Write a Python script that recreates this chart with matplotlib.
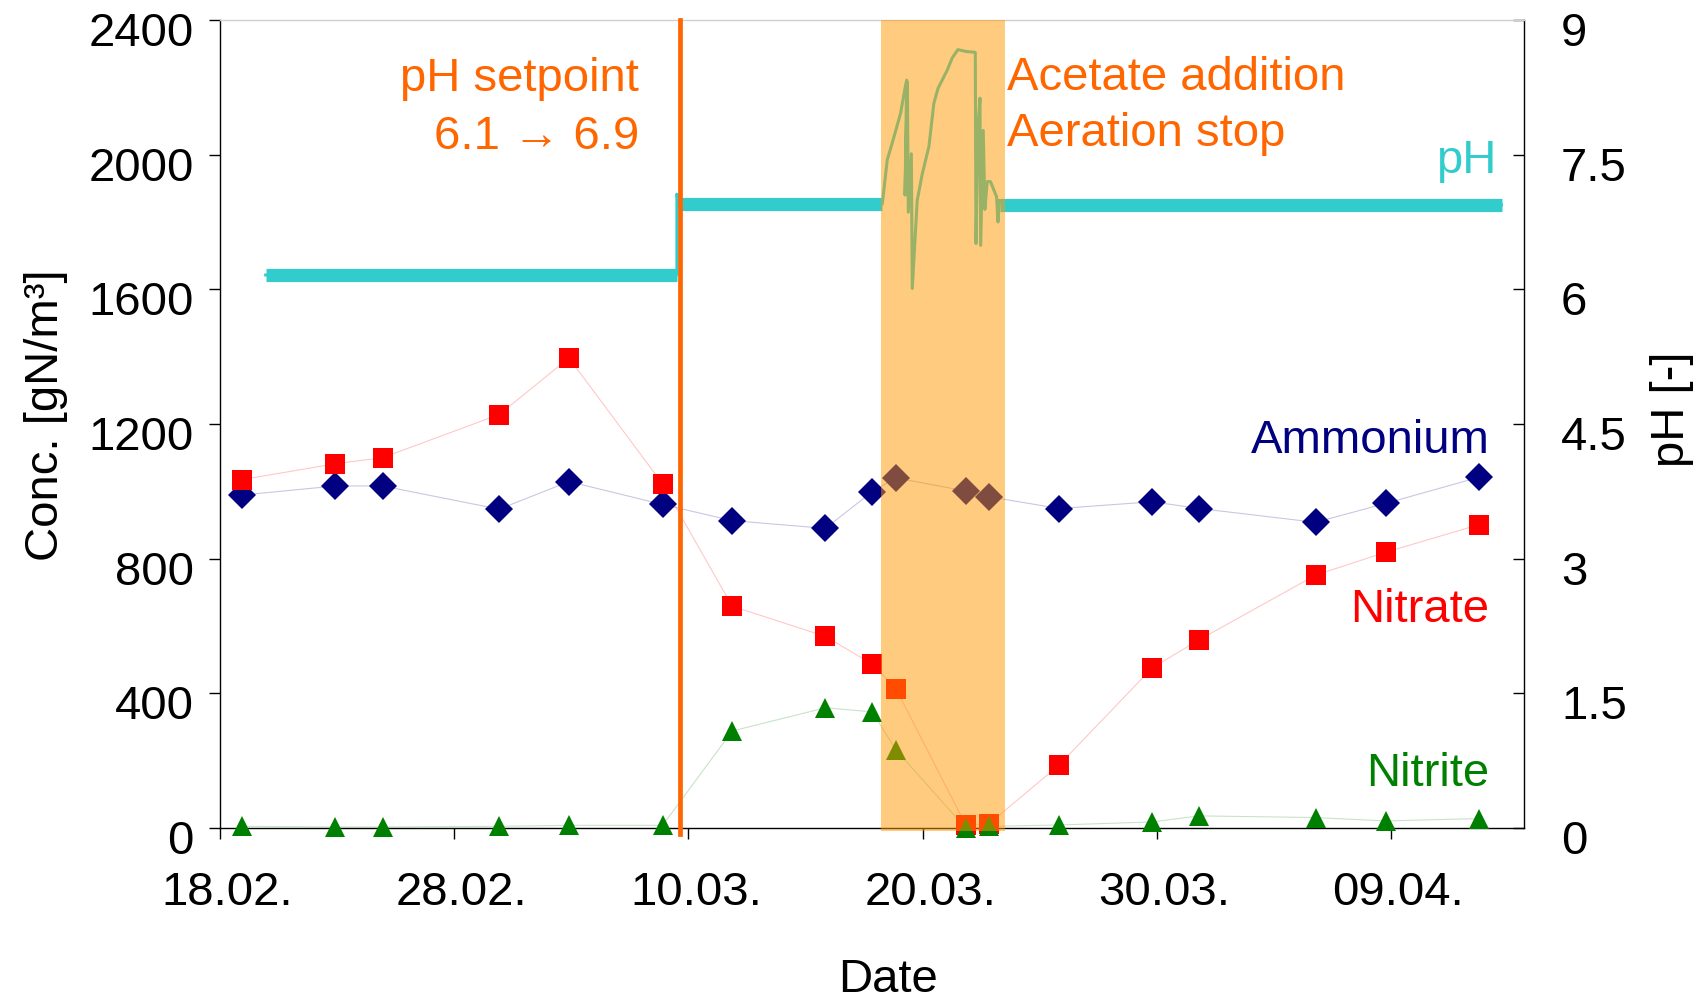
import matplotlib
matplotlib.use("Agg")
import matplotlib.pyplot as plt
from matplotlib.transforms import ScaledTranslation

plt.rcParams['font.family'] = ['Liberation Sans', 'DejaVu Sans']

# ---------------- data (x = days after 18.02.) ----------------
sample_days = [0.95, 4.93, 6.94, 11.92, 14.9, 18.9, 21.87, 25.85, 27.85, 28.86,
               31.84, 32.83, 35.83, 39.81, 41.81, 46.78, 49.77, 53.76]
ammonium = [989, 1016, 1016, 947, 1029, 961, 913, 890, 999, 1040,
            1001, 984, 949, 969, 949, 908, 964, 1042]
nitrate = [1035, 1082, 1100, 1228, 1396, 1022, 659, 569, 487, 414,
           9, 12, 187, 476, 559, 751, 819, 901]
nitrite = [5, 3, 3, 5, 8, 8, 288, 357, 345, 232,
           0, 5, 9, 18, 36, 31, 21, 28]

# online pH signal
ph_days = [1.95, 19.51, 19.51, 19.58, 28.28, 28.49, 28.78, 29.06, 29.25, 29.32,
           29.25, 29.35, 29.39, 29.52, 29.56, 29.77, 29.99, 30.27, 30.48, 30.66,
           31.05, 31.27, 31.51, 31.84, 32.25, 32.28, 32.37, 32.45, 32.48, 32.59,
           32.66, 32.76, 32.90, 33.16, 33.22, 33.28, 33.55, 54.72]
ph_vals = [6.16, 6.16, 7.06, 6.95, 6.95, 7.44, 7.70, 7.96, 8.24, 8.33,
           7.05, 8.31, 6.86, 7.51, 6.01, 6.99, 7.29, 7.59, 8.07, 8.24,
           8.44, 8.58, 8.67, 8.65, 8.64, 6.51, 7.81, 8.13, 6.49, 7.77,
           6.89, 7.20, 7.20, 7.03, 6.75, 6.99, 6.95, 6.94]
# steady (noisy) pH periods: start day, end day, level
ph_steady_start = [1.95, 19.55, 33.30]
ph_steady_end = [19.51, 28.28, 54.72]
ph_steady_level = [6.16, 6.95, 6.94]

setpoint_change_day = 19.65
event_start, event_end = 28.21, 33.52

xtick_days = [0, 10, 20, 30, 40, 50]
xtick_labels = ['18.02.', '28.02.', '10.03.', '20.03.', '30.03.', '09.04.']
conc_ticks = [0, 400, 800, 1200, 1600, 2000, 2400]
ph_ticks = [0, 1.5, 3, 4.5, 6, 7.5, 9]
ph_tick_labels = ['0', '1.5', '3', '4.5', '6', '7.5', '9']

# ---------------- figure ----------------
FS = 34
fig = plt.figure(figsize=(17, 10.01), dpi=100)
ax = fig.add_axes([220/1700, 173/1001, 1304/1700, 808/1001])
ax2 = ax.twinx()

NAVY, RED, GREEN = '#000080', '#FF0000', '#008000'
ORANGE, TEAL = '#FF6600', '#33CCCC'

# concentration series
for vals, col, mk, ms in [(ammonium, NAVY, 'D', 14.2),
                          (nitrate, RED, 's', 14.9),
                          (nitrite, GREEN, '^', 14.5)]:
    ax.plot(sample_days, vals, color=col, alpha=0.22, lw=0.8, zorder=2)
    ax.plot(sample_days, vals, ls='none', marker=mk, ms=ms, color=col,
            mew=0, clip_on=False, zorder=3)

ax.set_xlim(0, 55.68)
ax.set_ylim(0, 2400)
ax2.set_ylim(0, 9)

# pH
for s, e, lv in zip(ph_steady_start, ph_steady_end, ph_steady_level):
    ax2.plot([s, e], [lv, lv], color=TEAL, lw=9.5, solid_capstyle='butt', zorder=2)
ax2.plot(ph_days, ph_vals, color=TEAL, lw=2.2, zorder=2)

# event shading and setpoint line
ax2.axvspan(event_start, event_end, ymin=-0.0037, ymax=1.0, facecolor='#FF9900',
            alpha=0.5, lw=0, clip_on=False, zorder=4)
ax2.axvline(setpoint_change_day, ymin=-0.0074, ymax=1.0, color=ORANGE, lw=3.4,
            clip_on=False, zorder=5)

# ticks
ax.set_xticks(xtick_days)
ax.set_xticklabels(xtick_labels)
ax.set_yticks(conc_ticks)
ax.set_yticklabels([str(v) for v in conc_ticks])
ax2.set_yticks(ph_ticks)
ax2.set_yticklabels(ph_tick_labels)

ax.tick_params(axis='x', direction='out', length=8, width=1, labelsize=FS, pad=23)
ax.tick_params(axis='y', direction='out', length=8, width=1, labelsize=FS, pad=11)
ax2.tick_params(axis='y', direction='in', length=8, width=1, labelsize=FS, pad=26.6)

x_off = ScaledTranslation(7.5/100, 0, fig.dpi_scale_trans)
for lab in ax.get_xticklabels():
    lab.set_transform(lab.get_transform() + x_off)
y_off = ScaledTranslation(0, -9/100, fig.dpi_scale_trans)
for lab in ax.get_yticklabels() + ax2.get_yticklabels():
    lab.set_transform(lab.get_transform() + y_off)

# spines
for a in (ax, ax2):
    for sp in a.spines.values():
        sp.set_linewidth(1.0)
        sp.set_color('black')
ax.spines['top'].set_visible(False)
ax.spines['right'].set_visible(False)
ax2.spines['left'].set_visible(False)
ax2.spines['bottom'].set_visible(False)
ax2.spines['top'].set_color('#D0D0D0')

# axis labels
ax.set_ylabel('Conc. [gN/m³]', fontsize=FS)
ax.yaxis.set_label_coords(-0.1163, 0.5111)
ax2.set_ylabel('pH [-]', fontsize=FS)
ax2.yaxis.set_label_coords(1.0966, 0.5186)
ax.set_xlabel('Date', fontsize=FS)
ax.xaxis.set_label_coords(0.5123, -0.1605)

# annotations (axes fraction coords, baseline anchored)
def note(x, y, s, col, ha):
    ax2.text(x, y, s, color=col, fontsize=FS, ha=ha, va='baseline',
             transform=ax2.transAxes, zorder=6)

note(0.3216, 0.9125, 'pH setpoint', ORANGE, 'right')
note(0.3216, 0.8403, '6.1 → 6.9', ORANGE, 'right')
note(0.6033, 0.9134, 'Acetate addition', ORANGE, 'left')
note(0.6033, 0.8441, 'Aeration stop', ORANGE, 'left')
note(0.9791, 0.8110, 'pH', TEAL, 'right')
note(0.9739, 0.4645, 'Ammonium', NAVY, 'right')
note(0.9734, 0.2553, 'Nitrate', RED, 'right')
note(0.9734, 0.0520, 'Nitrite', GREEN, 'right')

fig.savefig('out.png', dpi=100)
